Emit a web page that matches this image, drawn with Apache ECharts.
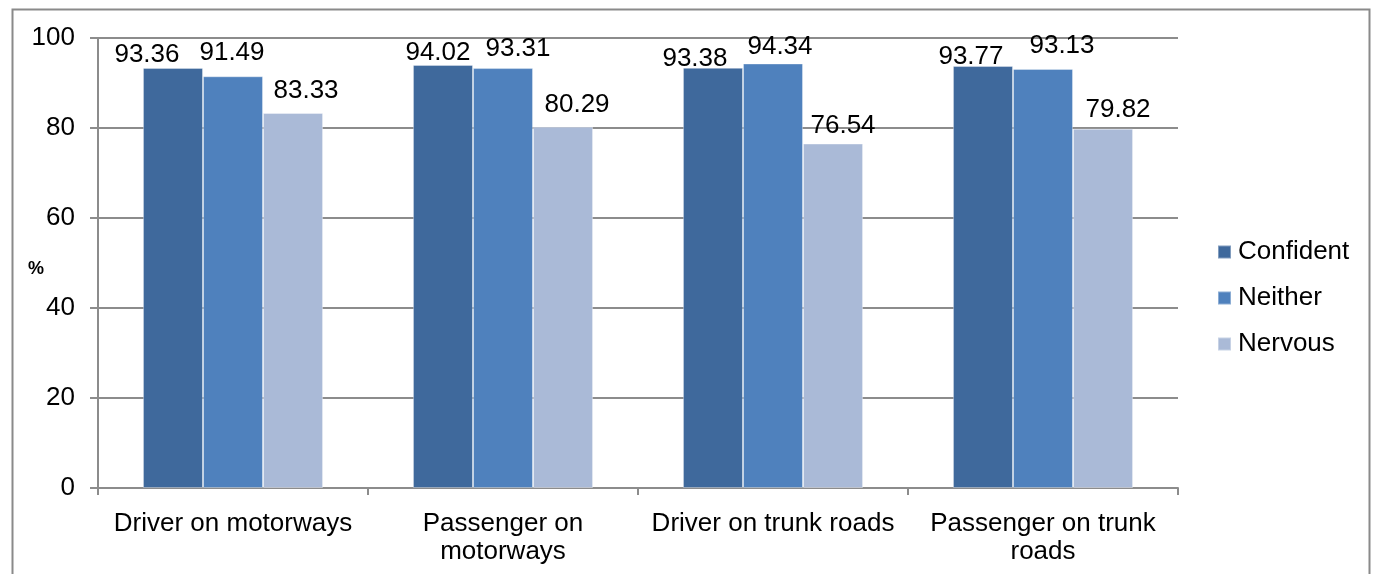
<!DOCTYPE html>
<html>
<head>
<meta charset="utf-8">
<script src="https://cdn.jsdelivr.net/npm/echarts@6/dist/echarts.min.js"></script>
<style>
  html, body { margin: 0; padding: 0; background: #ffffff; }
  #chart { width: 1380px; height: 574px; }
</style>
</head>
<body>
<div id="chart"></div>
<script>
// Road situations and the share (%) of respondents in each confidence group
const categories = ['Driver on motorways', 'Passenger on\nmotorways', 'Driver on trunk roads', 'Passenger on trunk\nroads'];
const confident = [93.36, 94.02, 93.38, 93.77];
const neither = [91.49, 93.31, 94.34, 93.13];
const nervous = [83.33, 80.29, 76.54, 79.82];
const yTicks = [0, 20, 40, 60, 80, 100];

// Hand-placed value labels: [dx, dy] pixel nudges so neighbouring labels don't collide
const labelNudge = {
  Confident: [[-26, 7], [-5, 8], [-18, 11], [-12, 11]],
  Neither:   [[-1, -3], [15, 1], [7, 3], [19, -3]],
  Nervous:   [[13, -2], [14, -2], [10, 2], [15, 1]]
};

const FONT = '"Liberation Sans", Arial, sans-serif';
const GRID_GREY = '#8c8c8c';

const chart = echarts.init(document.getElementById('chart'), null, { renderer: 'canvas' });

function barSeries(name, values, color) {
  return {
    name: name,
    type: 'bar',
    data: values.map((v, i) => ({
      value: v,
      label: { offset: labelNudge[name][i] }
    })),
    barGap: '0%',
    barCategoryGap: '33.3%',
    itemStyle: { color: color, borderColor: 'rgba(255,255,255,0.35)', borderWidth: 1 },
    label: {
      show: true,
      position: 'top',
      distance: 7,
      color: '#000',
      fontFamily: FONT,
      fontSize: 26,
      formatter: p => p.value.toFixed(2)
    }
  };
}

chart.setOption({
  animation: false,
  backgroundColor: '#ffffff',
  textStyle: { fontFamily: FONT },
  graphic: [{
    type: 'rect',
    left: 10, top: 7,
    shape: { width: 1357, height: 620 },
    style: { fill: 'none', stroke: '#8a8a8a', lineWidth: 2 },
    silent: true,
    z: -1
  }, {
    type: 'text',
    left: 28, top: 260,
    style: { text: '%', fill: '#000', font: 'bold 18px ' + FONT },
    silent: true
  }],
  grid: { left: 98, right: 202, top: 38, bottom: 86, containLabel: false },
  legend: {
    orient: 'vertical',
    left: 1212,
    top: 234,
    itemWidth: 13,
    itemHeight: 13,
    itemGap: 20,
    icon: 'rect',
    textStyle: { fontFamily: FONT, fontSize: 26, color: '#000', padding: [0, 0, 0, 2] },
    data: ['Confident', 'Neither', 'Nervous']
  },
  xAxis: {
    type: 'category',
    data: categories,
    axisLine: { lineStyle: { color: GRID_GREY, width: 2 } },
    axisTick: { show: true, length: 7, lineStyle: { color: GRID_GREY, width: 2 } },
    axisLabel: { color: '#000', fontFamily: FONT, fontSize: 26, margin: 22, lineHeight: 28, interval: 0 }
  },
  yAxis: {
    type: 'value',
    min: 0, max: 100, interval: 20,
    axisLine: { show: true, lineStyle: { color: GRID_GREY, width: 2 } },
    axisTick: { show: true, length: 8, lineStyle: { color: GRID_GREY, width: 2 } },
    axisLabel: {
      color: '#000', fontFamily: FONT, fontSize: 26, margin: 23,
      formatter: v => (yTicks.includes(v) ? String(v) : '')
    },
    splitLine: { show: true, lineStyle: { color: GRID_GREY, width: 2 } }
  },
  series: [
    barSeries('Confident', confident, '#3F699C'),
    barSeries('Neither', neither, '#4F81BD'),
    barSeries('Nervous', nervous, '#AABAD7')
  ]
});
</script>
</body>
</html>
